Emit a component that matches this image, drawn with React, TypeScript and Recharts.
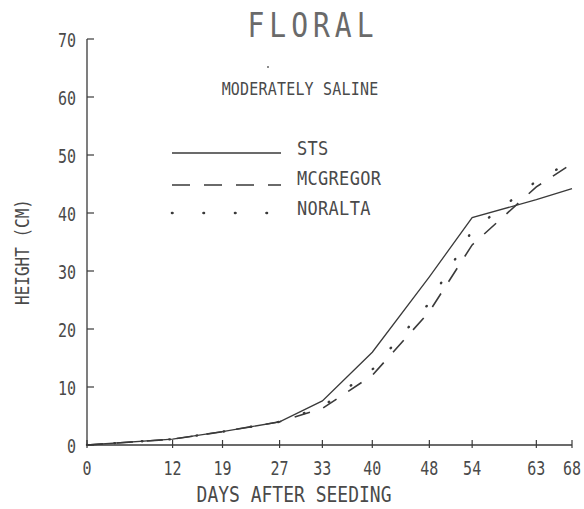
import React from 'react';
import { LineChart, Line, XAxis, YAxis } from 'recharts';

const days = [0, 12, 19, 27, 33, 40, 48, 54, 63, 68];
const sts = [0, 1, 2.3, 4, 7.6, 16, 29, 39.2, 42.3, 44.2];
const mcgregor = [0, 1, 2.3, 4, 6.3, 12, 23, 34.5, 44.5, 48.5];
const noralta = [0, 1, 2.3, 4, 6.6, 13, 24.5, 37, 45.5, 49];
const yTicks = [0, 10, 20, 30, 40, 50, 60, 70];
const seriesNames = ['STS', 'MCGREGOR', 'NORALTA'];

const data = days.map((d, i) => ({ day: d, sts: sts[i], mcgregor: mcgregor[i], noralta: noralta[i] }));

const FONT = '"DejaVu Sans Mono", monospace';
const INK = '#3a3a3a';
const TXT = '#4a4a4a';

const STxt = ({ x, y, sy, size, anchor, children, ls }: any) => (
  <text transform={`translate(${x},${y}) scale(1,${sy})`} x={0} y={0} textAnchor={anchor || 'start'}
    fontFamily={FONT} fontSize={size} fill={TXT} letterSpacing={ls || 0}>{children}</text>
);

const YTick = (props: any) => {
  const { x, y, payload } = props;
  return (
    <g>
      <line x1={x} x2={x + 7} y1={y} y2={y} stroke={INK} strokeWidth={1.2} />
      <STxt x={x - 11} y={y + 7.5} sy={1.35} size={15} anchor="end">{payload.value}</STxt>
    </g>
  );
};

const XTick = (props: any) => {
  const { x, y, payload } = props;
  return (
    <g>
      <line x1={x} x2={x} y1={y - 5} y2={y + 3} stroke={INK} strokeWidth={1.2} />
      <STxt x={x} y={y + 29.5} sy={1.35} size={15} anchor="middle">{payload.value}</STxt>
    </g>
  );
};

const LegendBox = () => {
  const styles = [
    { dash: undefined as string | undefined, cap: 'butt' as const, w: 1.3, ly: 18, ty: 20 },
    { dash: '18 14', cap: 'butt' as const, w: 1.7, ly: 50, ty: 50 },
    { dash: '0.5 31', cap: 'round' as const, w: 2.6, ly: 78, ty: 80 },
  ];
  return (
    <svg width={260} height={100} style={{ position: 'absolute', left: 170, top: 135 }}>
      {seriesNames.map((n, i) => (
        <g key={n}>
          <line x1={2} x2={111} y1={styles[i].ly} y2={styles[i].ly} stroke={INK} strokeWidth={styles[i].w}
            strokeDasharray={styles[i].dash} strokeLinecap={styles[i].cap} />
          <STxt x={127} y={styles[i].ty} sy={1.18} size={17} ls={0.3}>{n}</STxt>
        </g>
      ))}
    </svg>
  );
};

const Overlay = () => (
  <svg width={584} height={509} style={{ position: 'absolute', left: 0, top: 0, pointerEvents: 'none' }}>
    <text transform="translate(313,37) scale(1,1.22)" textAnchor="middle" fontFamily={FONT} fontSize={28}
      fill="#6a6a6a" letterSpacing={5}>FLORAL</text>
    <circle cx={268} cy={67} r={1} fill="#666" />
    <STxt x={300} y={94.5} sy={1.2} size={15} anchor="middle" ls={0.2}>MODERATELY SALINE</STxt>
    <STxt x={294} y={502} sy={1.22} size={18} anchor="middle">DAYS AFTER SEEDING</STxt>
    <g transform="translate(29,252) rotate(-90)">
      <text transform="scale(1,1.2)" x={0} y={0} textAnchor="middle" fontFamily={FONT} fontSize={16} fill={TXT}>HEIGHT (CM)</text>
    </g>
  </svg>
);

export default function App() {
  return (
    <div style={{ position: 'absolute', left: 0, top: 0, width: 584, height: 509, background: '#fff' }}>
      <LineChart width={584} height={509} data={data} margin={{ top: 39, right: 12, left: 47, bottom: 34 }}>
        <XAxis dataKey="day" type="number" domain={[0, 68]} ticks={days} interval={0}
          tickSize={0} tickMargin={0} tick={<XTick />} height={30}
          axisLine={{ stroke: INK, strokeWidth: 1.3 }} />
        <YAxis type="number" domain={[0, 70]} ticks={yTicks} interval={0}
          tickSize={0} tickMargin={0} tick={<YTick />} width={40}
          axisLine={{ stroke: INK, strokeWidth: 1.3 }} />
        <Line dataKey="sts" name="STS" stroke={INK} strokeWidth={1.3} dot={false} type="linear" isAnimationActive={false} />
        <Line dataKey="mcgregor" name="MCGREGOR" stroke={INK} strokeWidth={1.6} strokeDasharray="16 14" dot={false} type="linear" isAnimationActive={false} />
        <Line dataKey="noralta" name="NORALTA" stroke={INK} strokeWidth={2.4} strokeDasharray="0.5 27" strokeLinecap="round" dot={false} type="linear" isAnimationActive={false} />
      </LineChart>
      <LegendBox />
      <Overlay />
    </div>
  );
}
